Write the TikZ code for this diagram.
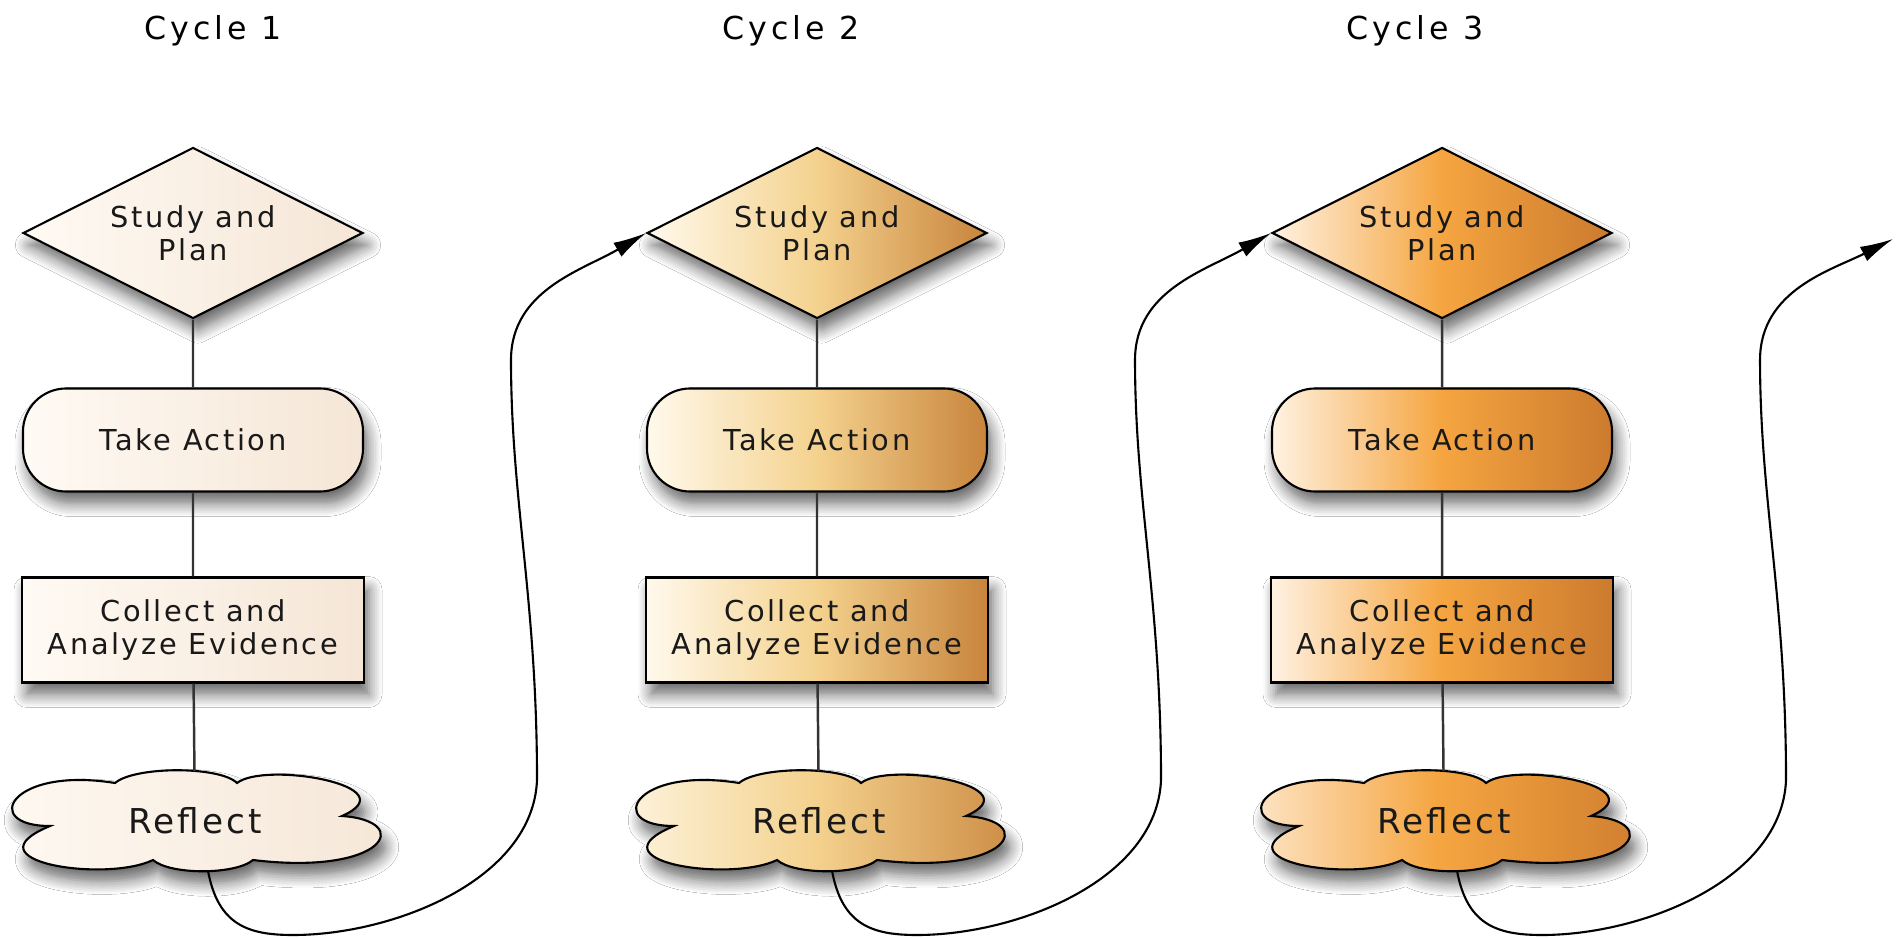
\documentclass[tikz,border=0pt]{standalone}
\usepackage{fontspec}
\setmainfont{DejaVu Sans}[LetterSpace=9]
\newfontfamily\titlefont{DejaVu Sans}[LetterSpace=13]
\usetikzlibrary{%
	shapes.geometric,%
	arrows.meta,%
	shadows.blur
}

\definecolor{cyclea}{HTML}{FFFAF4}
\definecolor{cycleab}{HTML}{FAF0E5}
\definecolor{cycleb}{HTML}{F5E6D6}
\definecolor{cycleca}{HTML}{FFF9EC}
\definecolor{cyclecb}{HTML}{F4D28E}
\definecolor{cyclecc}{HTML}{C8843C}
\definecolor{cycleda}{HTML}{FFF2E2}
\definecolor{cycledb}{HTML}{F5A540}
\definecolor{cycledc}{HTML}{CC7A2E}

\tikzset{
	tint/.style n args={3}{left color=#1, right color=#3, middle color=#2},
	softshadow/.style={blur shadow={shadow xshift=0.5mm, shadow yshift=-1.2mm, shadow blur radius=1.3mm, shadow blur steps=8, shadow opacity=60}},
	stepnode/.style={draw=black, line width=0.6pt, align=center, text=black!90,
		font=\fontsize{8.2}{9.5}\selectfont, softshadow},
	planbox/.style={stepnode, diamond, aspect=2, inner sep=0pt, minimum width=34mm, minimum height=17.1mm},
	actionbox/.style={stepnode, rectangle, rounded corners=4.3mm, minimum width=34mm, minimum height=10.3mm},
	evidencebox/.style={stepnode, rectangle, minimum width=34.2mm, minimum height=10.5mm},
	cloudline/.style={draw=black, line width=0.6pt, softshadow},
	reflectbox/.style={rectangle, inner sep=0pt, minimum width=36.1mm, minimum height=9.8mm,
		text=black!90, font=\fontsize{9.75}{11}\selectfont},
	cycletitle/.style={font=\titlefont\fontsize{9}{11}\selectfont, anchor=base},
	stepline/.style={draw=black!80, line width=0.7pt},
	cyclearrow/.style={draw=black, line width=0.6pt, -{Latex[length=3.3mm, width=1.6mm]}}
}

\begin{document}
\begin{tikzpicture}[x=0.1mm, y=-0.1mm]
		\fill[white] (0,0) rectangle (1896,938);
		\useasboundingbox (0,0) rectangle (1896,938);
		
		% Titles
		\foreach \i/\t in {1/213, 2/791, 3/1415}
		\node[cycletitle] (title\i) at (\t,40) {Cycle \i};
		
		% Steps of each cycle
		\foreach \i/\x/\shadeL/\shadeM/\shadeR in {1/193/cyclea/cycleab/cycleb, 2/817/cycleca/cyclecb/cyclecc, 3/1442/cycleda/cycledb/cycledc}
		{
			\node[planbox, tint={\shadeL}{\shadeM}{\shadeR}] (sp\i) at (\x,233) {Study and\\Plan};
			\node[actionbox, tint={\shadeL}{\shadeM}{\shadeR}] (ta\i) at (\x,440) {Take Action};
			\node[evidencebox, tint={\shadeL}{\shadeM}{\shadeR}] (ce\i) at (\x,630) {Collect and\\Analyze Evidence};
			% cloud outline, six puffs
			\begin{scope}[shift={(\x+2,821)}]
				\draw[cloudline, tint={\shadeL}{\shadeM}{\shadeR}] (-145,5)
					.. controls (-215,5) and (-185,-55) .. (-80,-38)
					.. controls (-60,-55) and (25,-55) .. (42,-38)
					.. controls (70,-60) and (215,-35) .. (147,-5)
					.. controls (220,0) and (190,55) .. (58,39)
					.. controls (40,54) and (-25,54) .. (-42,39)
					.. controls (-90,62) and (-230,40) .. (-145,5) -- cycle;
			\end{scope}
			\node[reflectbox] (rf\i) at (\x+2,821) {Reflect};
			\draw[stepline] (sp\i) -- (ta\i) (ta\i) -- (ce\i) (ce\i) -- (rf\i);
		}
		
		% Loose end of the last cycle
		\coordinate (nextcycle) at (1893,239);
		
		% Arrows to the next cycle
		\foreach \i/\x/\tgt in {1/193/sp2.west, 2/817/sp3.west, 3/1442/nextcycle}
		\draw[cyclearrow] ([xshift=1.3mm]rf\i.south) .. controls (\x+25,925) and (\x+55,935) .. (\x+100,935)
			.. controls (\x+200,935) and (\x+340,880) .. (\x+344,780)
			.. controls (\x+344,600) and (\x+318,500) .. (\x+318,360)
			.. controls (\x+318,290) and (\x+390,270) .. (\tgt);
	\end{tikzpicture}
\end{document}
